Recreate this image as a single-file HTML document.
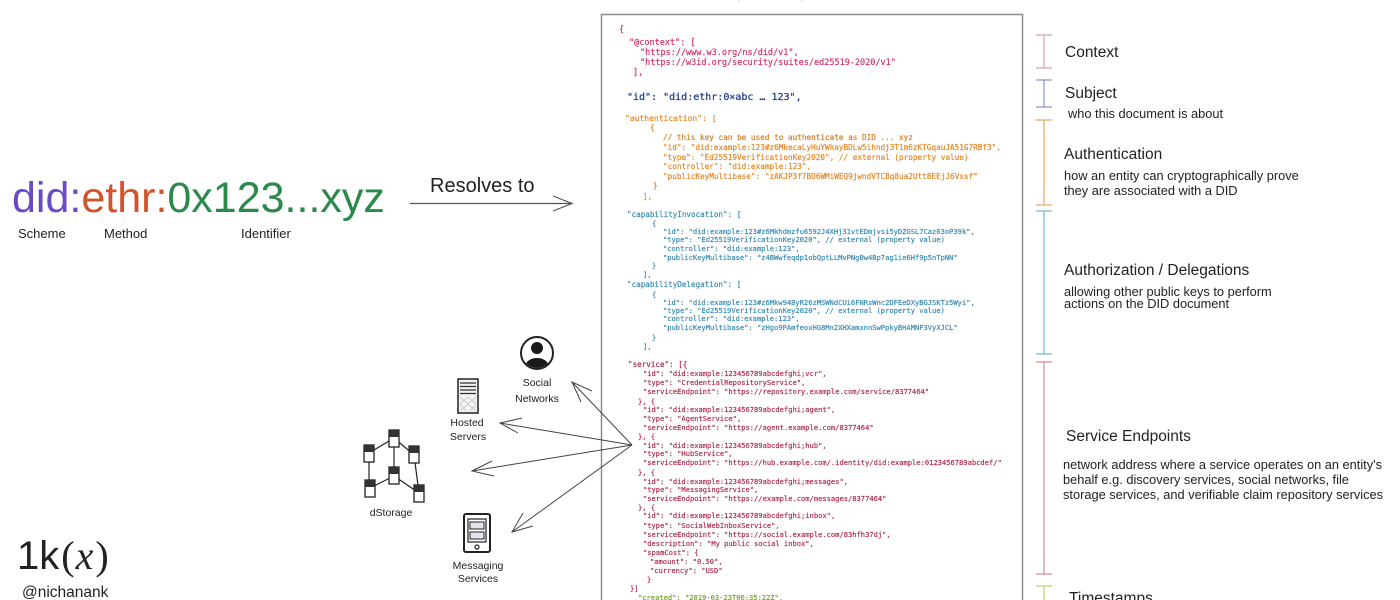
<!DOCTYPE html>
<html><head><meta charset="utf-8">
<style>
html,body{margin:0;padding:0;background:#fff;}
body{width:1400px;height:600px;overflow:hidden;}
svg{display:block;}
.m{font-family:"DejaVu Sans Mono","Liberation Mono",monospace;white-space:pre;}
.s{font-family:"Liberation Sans",Arial,sans-serif;}
.ctx{fill:#d6356b;stroke:#d6356b;stroke-width:0.2px;font-size:8.5px;}
.auth{fill:#e3892b;stroke:#e3892b;stroke-width:0.2px;font-size:7.7px;}
.cap{fill:#3b8db3;stroke:#3b8db3;stroke-width:0.2px;font-size:7.1px;}
.svc{fill:#ad3152;stroke:#ad3152;stroke-width:0.2px;font-size:7.1px;}
.lbl{fill:#222;font-size:15.5px;}
.dsc{fill:#222;font-size:12.8px;}
.hand{fill:#222;font-size:10.5px;font-family:"Liberation Sans",sans-serif;}
</style></head>
<body>
<svg width="1400" height="600" viewBox="0 0 1400 600" xmlns="http://www.w3.org/2000/svg">
<rect width="1400" height="600" fill="#fff"/>

<!-- faint header cut off -->
<text x="640" y="-1" class="s" font-size="14" fill="#dcdcdc">DID Document (JSON-LD)</text>

<!-- code box -->
<path d="M601.5 600 L601.5 14.5 L1022.5 14.5 L1022.5 600" fill="none" stroke="#8c8c8c" stroke-width="1.5"/>

<!-- context -->
<g class="m ctx">
<text x="619" y="32">{</text>
<text x="629" y="45">"@context": [</text>
<text x="640" y="55">"https://www.w3.org/ns/did/v1",</text>
<text x="640" y="65">"https://w3id.org/security/suites/ed25519-2020/v1"</text>
<text x="633" y="75">],</text>
</g>
<text x="627" y="100" class="m" font-size="10px" fill="#1e3c8c" stroke="#1e3c8c" stroke-width="0.25">"id": "did:ethr:0×abc … 123",</text>

<!-- authentication -->
<g class="m auth">
<text x="625" y="121" font-size="8px">"authentication": [</text>
<text x="650" y="130">{</text>
<text x="663" y="140" fill="#d07a22">// this key can be used to authenticate as DID ... xyz</text>
<text x="663" y="150">"id": "did:example:123#z6MkecaLyHuYWkayBDLw5ihndj3T1m6zKTGqauJA51G7RBf3",</text>
<text x="663" y="160">"type": "Ed25519VerificationKey2020", // external (property value)</text>
<text x="663" y="169">"controller": "did:example:123",</text>
<text x="663" y="179">"publicKeyMultibase": "zAKJP3f7BD6WMiWEQ9jwndVTCBq8ua2Utt8EEjJ6Vxsf"</text>
<text x="653" y="188">}</text>
<text x="643" y="199">],</text>
</g>

<!-- capabilities -->
<g class="m cap">
<text x="627" y="217" font-size="7.6px">"capabilityInvocation": [</text>
<text x="652" y="226">{</text>
<text x="663" y="234">"id": "did:example:123#z6Mkhdmzfu6592J4XHj31vtEDmjvsi5yDZGSL7Caz63oP39k",</text>
<text x="663" y="242">"type": "Ed25519VerificationKey2020", // external (property value)</text>
<text x="663" y="251">"controller": "did:example:123",</text>
<text x="663" y="260">"publicKeyMultibase": "z4BWwfeqdp1obQptLLMvPNgBw4Bp7ag1ie6Hf9p5nTpNN"</text>
<text x="652" y="268">}</text>
<text x="643" y="277">],</text>
<text x="627" y="287" font-size="7.6px">"capabilityDelegation": [</text>
<text x="652" y="297">{</text>
<text x="663" y="305">"id": "did:example:123#z6Mkw94ByR26zMSWNdCUi6FNRsWnc2DFEeDXyBGJSKTz5Wyi",</text>
<text x="663" y="313">"type": "Ed25519VerificationKey2020", // external (property value)</text>
<text x="663" y="321">"controller": "did:example:123",</text>
<text x="663" y="330">"publicKeyMultibase": "zHgo9PAmfeoxHG8Mn2XHXamxnnSwPpkyBHAMNF3VyXJCL"</text>
<text x="652" y="340">}</text>
<text x="643" y="349">],</text>
</g>

<!-- service -->
<g class="m svc">
<text x="628" y="367" font-size="7.6px">"service": [{</text>
<text x="643" y="376">"id": "did:example:123456789abcdefghi;vcr",</text>
<text x="643" y="385">"type": "CredentialRepositoryService",</text>
<text x="643" y="394">"serviceEndpoint": "https://repository.example.com/service/8377464"</text>
<text x="638" y="404">}, {</text>
<text x="643" y="412">"id": "did:example:123456789abcdefghi;agent",</text>
<text x="643" y="421">"type": "AgentService",</text>
<text x="643" y="430">"serviceEndpoint": "https://agent.example.com/8377464"</text>
<text x="638" y="439">}, {</text>
<text x="643" y="448">"id": "did:example:123456789abcdefghi;hub",</text>
<text x="643" y="456">"type": "HubService",</text>
<text x="643" y="465">"serviceEndpoint": "https://hub.example.com/.identity/did:example:0123456789abcdef/"</text>
<text x="638" y="475">}, {</text>
<text x="643" y="484">"id": "did:example:123456789abcdefghi;messages",</text>
<text x="643" y="492">"type": "MessagingService",</text>
<text x="643" y="501">"serviceEndpoint": "https://example.com/messages/8377464"</text>
<text x="638" y="510">}, {</text>
<text x="643" y="518">"id": "did:example:123456789abcdefghi;inbox",</text>
<text x="643" y="528">"type": "SocialWebInboxService",</text>
<text x="643" y="537">"serviceEndpoint": "https://social.example.com/83hfh37dj",</text>
<text x="643" y="546">"description": "My public social inbox",</text>
<text x="643" y="555">"spamCost": {</text>
<text x="650" y="564">"amount": "0.50",</text>
<text x="650" y="573">"currency": "USD"</text>
<text x="647" y="582">}</text>
<text x="630" y="591">}]</text>
</g>
<text x="638" y="600" class="m" font-size="7.1px" fill="#78a035" stroke="#78a035" stroke-width="0.2">"created": "2019-03-23T06:35:22Z",</text>

<!-- right brackets -->
<g fill="none" stroke-width="1.2">
<g stroke="#dc9fb0"><path d="M1044 35V68M1036 35H1052M1036 68H1052"/></g>
<g stroke="#8a96cc"><path d="M1044 80V107M1036 80H1052M1036 107H1052"/></g>
<g stroke="#eaa865"><path d="M1044 120V205M1036 120H1052M1036 205H1052"/></g>
<g stroke="#78bad2"><path d="M1044 211V354M1036 211H1052M1036 354H1052"/></g>
<g stroke="#d98a9c"><path d="M1044 362V574M1036 362H1052M1036 574H1052"/></g>
<g stroke="#c0cc70"><path d="M1044 586V600M1036 586H1052"/></g>
</g>

<!-- right labels -->
<g class="s">
<text x="1065" y="57" class="lbl">Context</text>
<text x="1065" y="98" class="lbl">Subject</text>
<text x="1068" y="118" class="dsc" font-size="12.5px">who this document is about</text>
<text x="1064" y="159" class="lbl">Authentication</text>
<text x="1064" y="180" class="dsc">how an entity can cryptographically prove</text>
<text x="1064" y="195" class="dsc">they are associated with a DID</text>
<text x="1064" y="275" class="lbl">Authorization / Delegations</text>
<text x="1064" y="296" class="dsc" font-size="11.8px">allowing other public keys to perform</text>
<text x="1064" y="308" class="dsc" font-size="11.8px">actions on the DID document</text>
<text x="1066" y="441" class="lbl">Service Endpoints</text>
<text x="1063" y="469" class="dsc" font-size="13px">network address where a service operates on an entity's</text>
<text x="1063" y="484" class="dsc" font-size="13px">behalf e.g. discovery services, social networks, file</text>
<text x="1063" y="499" class="dsc" font-size="13px">storage services, and verifiable claim repository services</text>
<text x="1069" y="603" class="lbl">Timestamps</text>
</g>

<!-- DID string -->
<text x="12" y="212" class="s" font-size="43px"><tspan fill="#6a4bc3">did:</tspan><tspan fill="#d2532b">ethr:</tspan><tspan fill="#2b8a4b">0x123...xyz</tspan></text>
<g class="s" font-size="13px" fill="#222">
<text x="18" y="238">Scheme</text>
<text x="104" y="238">Method</text>
<text x="241" y="238">Identifier</text>
</g>
<text x="430" y="192" class="s" font-size="20px" fill="#222">Resolves to</text>
<g stroke="#555" stroke-width="1.2" fill="none">
<path d="M410 203.5 L572 203.5"/>
<path d="M553 196 L572 203.5 L553 211"/>
</g>

<!-- logo -->
<text x="17" y="569" class="s" font-size="40px" fill="#222">1k<tspan font-family="'Liberation Serif',serif" dx="2">(</tspan><tspan font-family="'Liberation Serif',serif" font-style="italic" dx="1">x</tspan><tspan font-family="'Liberation Serif',serif" dx="2">)</tspan></text>
<text x="22" y="597" class="s" font-size="15.5px" fill="#222">@nichanank</text>

<!-- connectors -->
<g stroke="#444" stroke-width="1" fill="none">
<path d="M632 445 L572 382"/>
<path d="M592 391 L572 382 L581 402"/>
<path d="M632 445 L500 423"/>
<path d="M522 418 L500 423 L518 433"/>
<path d="M632 445 L472 471"/>
<path d="M492 461 L472 471 L494 476"/>
<path d="M632 445 L512 532"/>
<path d="M533 526 L512 532 L523 513"/>
</g>

<!-- Social networks icon -->
<defs><clipPath id="cc"><circle cx="537" cy="353" r="15"/></clipPath></defs>
<circle cx="537" cy="353" r="16" fill="#fff" stroke="#222" stroke-width="2"/>
<g clip-path="url(#cc)" fill="#1a1a1a">
<circle cx="537" cy="348" r="6"/>
<ellipse cx="537" cy="367" rx="12" ry="9"/>
</g>
<text x="537" y="386" class="hand" text-anchor="middle">Social</text>
<text x="537" y="402" class="hand" text-anchor="middle">Networks</text>

<!-- Hosted servers -->
<rect x="458" y="379" width="20" height="34" fill="#f2f2f2" stroke="#222" stroke-width="1.5"/>
<g stroke="#333" stroke-width="1.3"><path d="M460 383H476M460 386.5H476M460 390H476M460 393.5H476"/></g>
<g stroke="#bbb" stroke-width="0.6"><path d="M460 397L476 411M460 405L467 411M468 397L476 404M476 397L460 411M468 397L460 404M476 405L470 411"/></g>
<text x="467" y="426" class="hand" font-size="9.5px" text-anchor="middle">Hosted</text>
<text x="468" y="440" class="hand" font-size="9.5px" text-anchor="middle">Servers</text>

<!-- dStorage -->
<g stroke="#222" stroke-width="1.2" fill="none">
<path d="M369 453L394 438M394 438L414 455M394 438V476M369 453V488M394 476L370 488M394 476L419 493M414 455L419 493"/>
</g>
<g stroke="#222" stroke-width="1.3" fill="#fff">
<rect x="364" y="445" width="10" height="17"/>
<rect x="389" y="430" width="10" height="17"/>
<rect x="409" y="446" width="10" height="17"/>
<rect x="389" y="467" width="10" height="17"/>
<rect x="365" y="480" width="10" height="17"/>
<rect x="414" y="485" width="10" height="17"/>
</g>
<g fill="#333">
<rect x="364" y="445" width="10" height="7"/>
<rect x="389" y="430" width="10" height="7"/>
<rect x="409" y="446" width="10" height="7"/>
<rect x="389" y="467" width="10" height="7"/>
<rect x="365" y="480" width="10" height="7"/>
<rect x="414" y="485" width="10" height="7"/>
</g>
<text x="391" y="516" class="hand" font-size="13px" text-anchor="middle">dStorage</text>

<!-- Messaging phone -->
<rect x="464" y="514" width="26" height="38" rx="2" fill="#fff" stroke="#222" stroke-width="2"/>
<rect x="468" y="519" width="18" height="23" fill="#fff" stroke="#222" stroke-width="1.2"/>
<rect x="470" y="522" width="14" height="7" fill="#e4e4f0" stroke="#222" stroke-width="1"/>
<rect x="470" y="532" width="14" height="7" fill="#e4e4f0" stroke="#222" stroke-width="1"/>
<circle cx="477" cy="547" r="2" fill="none" stroke="#222" stroke-width="1.2"/>
<text x="478" y="569" class="hand" font-size="9.5px" text-anchor="middle">Messaging</text>
<text x="478" y="582" class="hand" font-size="9.5px" text-anchor="middle">Services</text>
</svg>
</body></html>
